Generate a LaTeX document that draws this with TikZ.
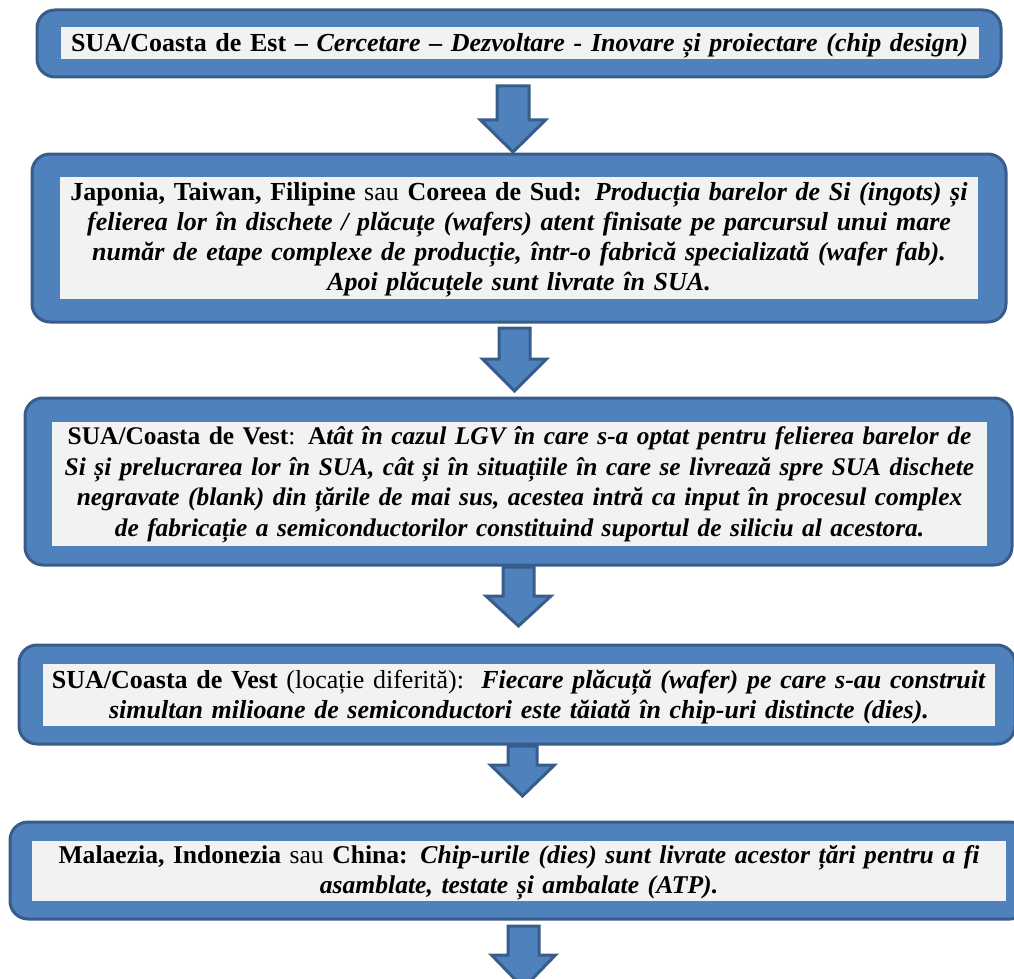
\documentclass[tikz,border=0pt]{standalone}
\usepackage{fontspec}
\setmainfont{Liberation Serif}
\definecolor{boxblue}{HTML}{4F81BD}
\definecolor{boxedge}{HTML}{385D8A}
\definecolor{panel}{HTML}{F2F2F2}
\tikzset{
  outerbox/.style={draw=boxedge, line width=3pt, fill=boxblue, rounded corners=18pt, inner sep=0pt},
  panelbox/.style={fill=panel, inner sep=0pt},
  txt/.style={inner sep=0pt, align=center, font=\fontsize{26}{30}\selectfont},
  blockarrow/.style={draw=boxedge, line width=3pt, fill=boxblue, line join=miter}
}
\newcommand\barrow[6]{%
  \draw[blockarrow] ({#1-#5},#2) -- ({#1+#5},#2) -- ({#1+#5},#3) -- ({#1+#6},#3)
    -- (#1,#4) -- ({#1-#6},#3) -- ({#1-#5},#3) -- cycle;}
\newcommand\bi[1]{\textbf{\textit{#1}}}
\begin{document}
\begin{tikzpicture}[x=1pt,y=-1pt]
\useasboundingbox (0,0) rectangle (1014,979);
% box 1
\node[outerbox, minimum width=964pt, minimum height=67pt] (o1) at (519,43.5) {};
\node[panelbox, minimum width=918pt, minimum height=32pt] (p1) at (519.5,43) {};
\node[txt, text width=916pt] (t1) at ([yshift=-3pt]p1.center)
 {\textbf{SUA/Coasta de Est –} \bi{Cercetare – Dezvoltare - Inovare și proiectare (chip design)}};
% box 2
\node[outerbox, minimum width=974pt, minimum height=168pt] (o2) at (519,238) {};
\node[panelbox, minimum width=918pt, minimum height=122pt] (p2) at (519,238) {};
\node[txt, text width=916pt] (t2) at ([yshift=-2pt]p2.center)
 {\textbf{Japonia, Taiwan, Filipine} sau \textbf{Coreea de Sud:} \bi{Producția barelor de Si (ingots) și}\\
  \bi{felierea lor în dischete / plăcuțe (wafers) atent finisate pe parcursul unui mare}\\
  \bi{număr de etape complexe de producție, într-o fabrică specializată (wafer fab).}\\
  \bi{Apoi plăcuțele sunt livrate în SUA.}};
% box 3
\node[outerbox, minimum width=987pt, minimum height=167pt] (o3) at (518.5,481.5) {};
\node[panelbox, minimum width=935pt, minimum height=124pt] (p3) at (519.5,484) {};
\node[txt, text width=933pt, font=\fontsize{25.4}{30.5}\selectfont] (t3) at ([yshift=-1pt]p3.center)
 {\textbf{SUA/Coasta de Vest}: \textbf{A}\bi{tât în cazul LGV în care s-a optat pentru felierea barelor de}\\
  \bi{Si și prelucrarea lor în SUA, cât și în situațiile în care se livrează spre SUA dischete}\\
  \bi{negravate (blank) din țările de mai sus, acestea intră ca input în procesul complex}\\
  \bi{de fabricație a semiconductorilor constituind suportul de siliciu al acestora.}};
% box 4
\node[outerbox, minimum width=996pt, minimum height=99pt] (o4) at (517,694.5) {};
\node[panelbox, minimum width=952pt, minimum height=62pt] (p4) at (519,695) {};
\node[txt, text width=950pt] (t4) at ([yshift=-2pt]p4.center)
 {\textbf{SUA/Coasta de Vest} (locație diferită):\ \ \bi{Fiecare plăcuță (wafer) pe care s-au construit}\\
  \bi{simultan milioane de semiconductori este tăiată în chip-uri distincte (dies).}};
% box 5
\node[outerbox, minimum width=1018pt, minimum height=97pt] (o5) at (519,870.5) {};
\node[panelbox, minimum width=974pt, minimum height=60pt] (p5) at (519,871) {};
\node[txt, text width=972pt, font=\fontsize{25.6}{30}\selectfont] (t5) at ([yshift=-2pt]p5.center)
 {\textbf{Malaezia, Indonezia} sau \textbf{China:} \bi{Chip-urile (dies) sunt livrate acestor țări pentru a fi}\\
  \bi{asamblate, testate și ambalate (ATP).}};
% arrows
\barrow{513}{86}{120}{152}{16}{32.5}
\barrow{514.5}{328}{359}{391}{15.5}{32}
\barrow{518.5}{567}{596}{626}{15.5}{32.5}
\barrow{522.5}{746}{765}{796}{14.5}{32}
\barrow{523.5}{926}{955}{988}{15.5}{32}
\end{tikzpicture}
\end{document}
